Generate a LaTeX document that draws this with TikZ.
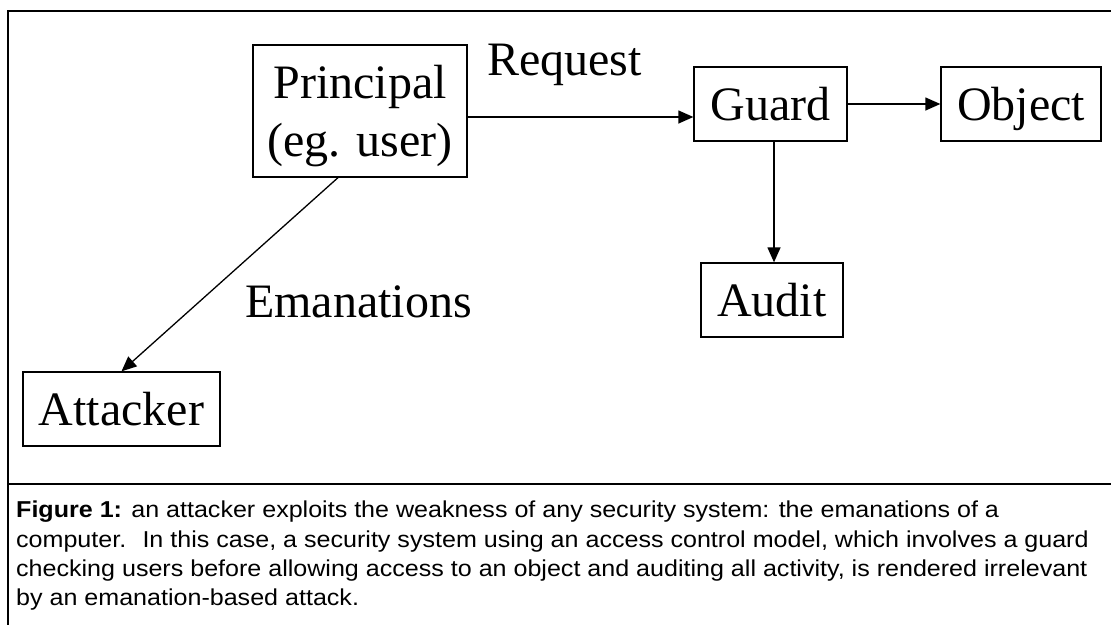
\documentclass[tikz,border=0pt]{standalone}
\usepackage{fontspec}
\setmainfont{Liberation Serif}
\newfontfamily\captionfont[FakeStretch=1.09]{Liberation Sans}
\usetikzlibrary{positioning,arrows.meta}

\begin{document}
\begin{tikzpicture}[x=1pt, y=-1pt, on grid, font=\fontsize{48}{58}\selectfont,
    box/.style={draw, line width=1.3pt, inner sep=0pt, minimum height=74pt,
      text height=33pt, text depth=0pt, align=center},
    arr/.style={-{Triangle[length=15pt,width=13pt]}, line width=1.3pt}]
  \useasboundingbox (0,0) rectangle (1111,624);
  % frame and caption rule
  \draw[line width=2pt] (1112,11) -- (8,11) -- (8,625);
  \draw[line width=1.3pt] (8,484) -- (1112,484);
  \node[box, minimum width=214pt, minimum height=132pt, text height=91pt]
    (principal) at (360,111) {Principal\\(eg. user)};
  \node[box, minimum width=153pt] (guard) at (770.5,104) {Guard};
  \node[box, minimum width=160pt] (object) [right=250.5pt of guard] {Object};
  \node[box, minimum width=142pt] (audit) [below=196pt of guard, xshift=1.5pt] {Audit};
  \node[box, minimum width=197pt] (attacker) at (121.5,409) {Attacker};
  \node[anchor=base west, inner sep=0pt] (request) at (487,75) {Request};
  \node[anchor=base west, inner sep=0pt] (emanations) at (245,317) {Emanations};
  \draw[arr] ([yshift=-6pt]principal.east) -- ([yshift=-6pt]principal.east -| guard.west);
  \draw[arr] (guard) -- (object);
  \draw[arr] ([xshift=3.5pt]guard.south) -- ([xshift=3.5pt]guard.south |- audit.north);
  \draw[arr] ([xshift=-22pt]principal.south) -- (attacker.north);
  \node[anchor=north west, inner sep=0pt, align=left,
    font=\captionfont\fontsize{23}{29.3}\selectfont] (caption) at (16,501)
    {\textbf{Figure 1:} an attacker exploits the weakness of any security system: the emanations of a\\
     computer.~ In this case, a security system using an access control model, which involves a guard\\
     checking users before allowing access to an object and auditing all activity, is rendered irrelevant\\
     by an emanation-based attack.};
\end{tikzpicture}
\end{document}
